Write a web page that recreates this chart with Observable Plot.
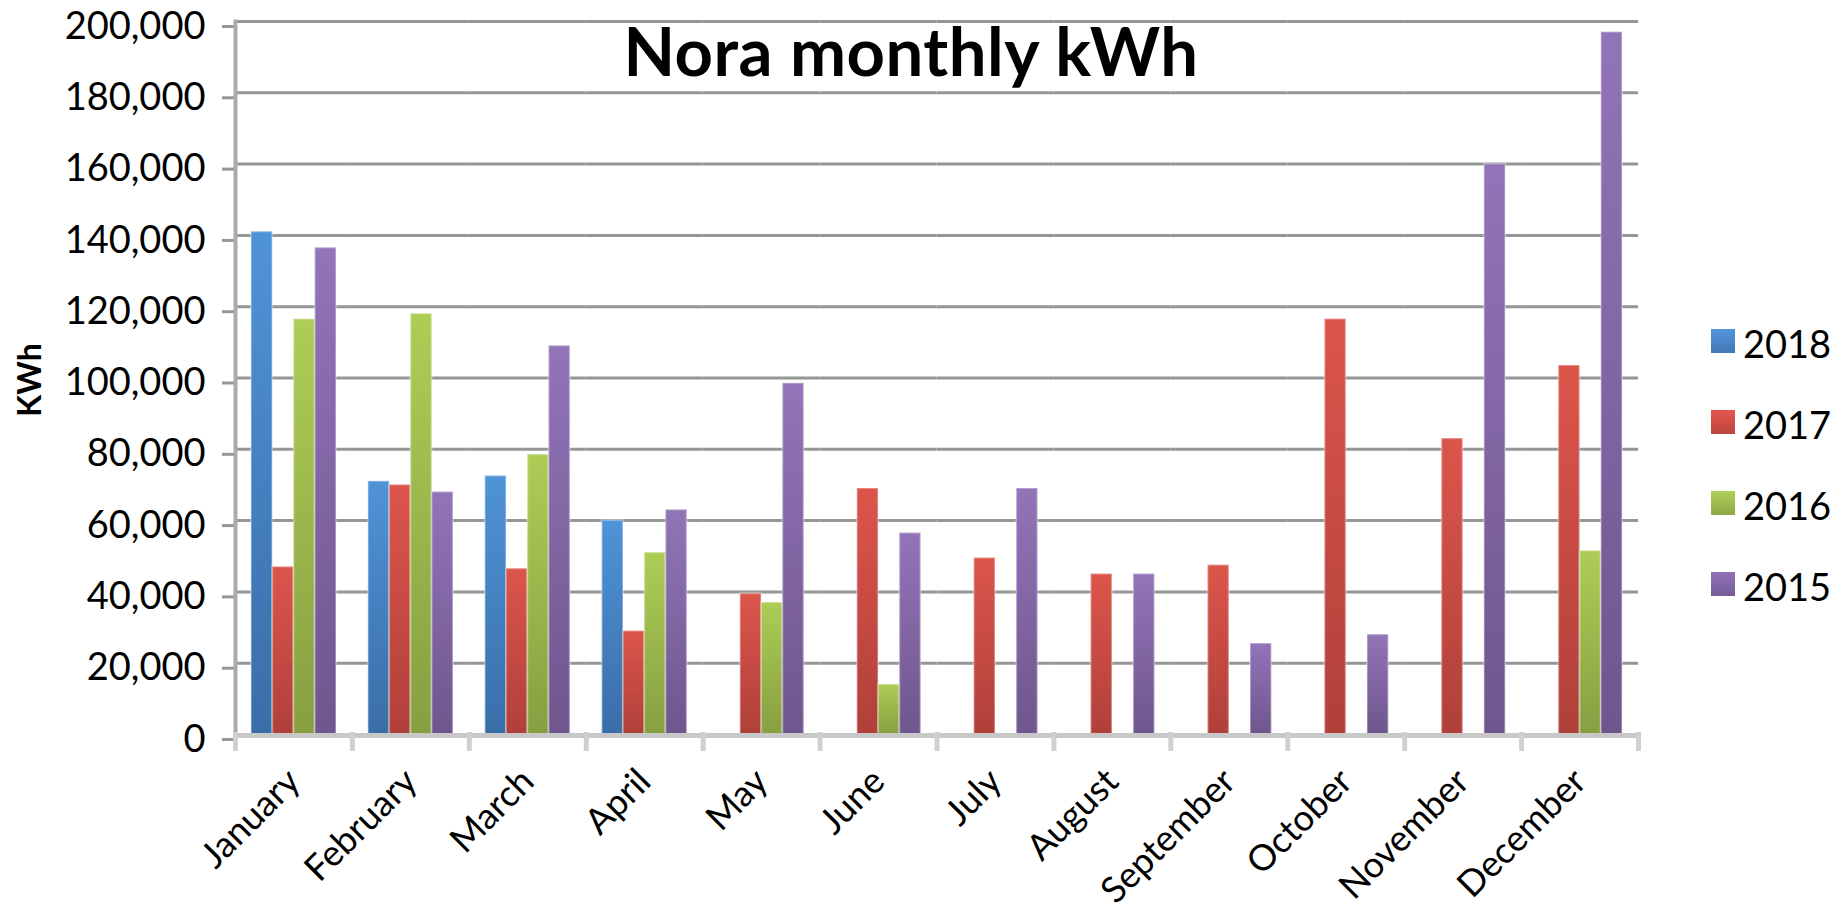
<!DOCTYPE html>
<html>
<head>
<meta charset="utf-8">
<script src="https://cdn.jsdelivr.net/npm/d3@7"></script>
<script src="https://cdn.jsdelivr.net/npm/@observablehq/plot@0.6"></script>
<style>
  html, body { margin: 0; padding: 0; background: #fff; overflow: hidden; }
  #wrap { position: relative; width: 1842px; height: 917px; font-family: Lato, "Liberation Sans", sans-serif; }
  #chart svg { display: block; }
  #title { position: absolute; left: 911px; top: 17px; transform: translateX(-50%); font-weight: 700; font-size: 67px; letter-spacing: 0.5px; line-height: 1; white-space: nowrap; color: #000; }
  #ylabel { position: absolute; left: 29px; top: 380px; transform: translate(-50%, -50%) rotate(-90deg); font-weight: 700; font-size: 32px; line-height: 1; color: #000; white-space: nowrap; }
  #legend { position: absolute; left: 1711px; top: 323px; }
  .item { position: relative; height: 81px; }
  .sw { position: absolute; left: 0; top: 6px; width: 24px; height: 24px; }
  .lab { position: absolute; left: 32px; top: 0; font-size: 38px; line-height: 40px; color: #000; }
</style>
</head>
<body>
<svg width="0" height="0" style="position:absolute">
  <defs>
    <linearGradient id="g2018" x1="0" y1="0" x2="0" y2="1">
      <stop offset="0" stop-color="#4f93d8"/><stop offset="1" stop-color="#3a6ea8"/>
    </linearGradient>
    <linearGradient id="g2017" x1="0" y1="0" x2="0" y2="1">
      <stop offset="0" stop-color="#dc554b"/><stop offset="1" stop-color="#b0403a"/>
    </linearGradient>
    <linearGradient id="g2016" x1="0" y1="0" x2="0" y2="1">
      <stop offset="0" stop-color="#adcd56"/><stop offset="1" stop-color="#879f41"/>
    </linearGradient>
    <linearGradient id="g2015" x1="0" y1="0" x2="0" y2="1">
      <stop offset="0" stop-color="#9274b8"/><stop offset="1" stop-color="#6f568e"/>
    </linearGradient>
  </defs>
</svg>
<div id="wrap">
  <div id="chart"></div>
  <div id="title">Nora monthly kWh</div>
  <div id="ylabel">KWh</div>
  <div id="legend"></div>
</div>
<script>
// ---- data ----
const months = ["January", "February", "March", "April", "May", "June", "July", "August", "September", "October", "November", "December"];
const years = ["2018", "2017", "2016", "2015"];
const kwh2018 = [141000, 71000, 72500, 60000, null, null, null, null, null, null, null, null];
const kwh2017 = [47000, 70000, 46500, 29000, 39500, 69000, 49500, 45000, 47500, 116500, 83000, 103500];
const kwh2016 = [116500, 118000, 78500, 51000, 37000, 14000, null, null, null, null, null, 51500];
const kwh2015 = [136500, 68000, 109000, 63000, 98500, 56500, 69000, 45000, 25500, 28000, 160000, 197000];
const yTicks = [0, 20000, 40000, 60000, 80000, 100000, 120000, 140000, 160000, 180000, 200000];
const yearColors = ["#4a86c8", "#cf4d45", "#9dbb4f", "#8266a6"];

const series = [kwh2018, kwh2017, kwh2016, kwh2015];
const data = years.flatMap((yr, k) =>
  series[k].map((v, i) => ({month: months[i], year: yr, value: v}))
).filter(d => d.value != null);

const chart = Plot.plot({
  width: 1842,
  height: 917,
  marginTop: 21,
  marginBottom: 183,
  marginLeft: 235,
  marginRight: 204,
  style: {fontFamily: "Lato, 'Liberation Sans', sans-serif", fontSize: "36px", color: "#000", background: "transparent", overflow: "visible"},
  fx: {domain: months, padding: 0, round: false, label: null},
  x: {domain: years, paddingInner: 0, paddingOuter: 0.75, round: false, axis: null},
  y: {domain: [0, 200000], label: null},
  color: {domain: years, range: years.map(y => `url(#g${y})`)},
  marks: [
    Plot.gridY(yTicks, {stroke: "#969696", strokeWidth: 3, strokeOpacity: 1}),
    Plot.axisY(yTicks, {tickSize: 13, tickPadding: 17, tickFormat: d3.format(","), stroke: "#969696", strokeWidth: 3, fill: "#000", fontSize: 38, label: null, dy: 5}),
    Plot.barY(data, {fx: "month", x: "year", y: "value", fill: "year", stroke: "white", strokeOpacity: 0.3, strokeWidth: 2}),
    Plot.ruleY([0], {stroke: "#c8c8c8", strokeWidth: 5, dy: 1}),
    Plot.frame({anchor: "left", facetAnchor: "left", stroke: "#ababab", strokeWidth: 4}),
    Plot.frame({anchor: "left", insetTop: 713, insetBottom: -14, stroke: "#d0d0d0", strokeWidth: 5}),
    Plot.frame({anchor: "right", facetAnchor: "right", insetTop: 713, insetBottom: -14, stroke: "#d0d0d0", strokeWidth: 5}),
    Plot.axisFx({anchor: "bottom", tickRotate: -45, tickSize: 0, tickPadding: 41, label: null, fill: "#000"})
  ]
});
document.getElementById("chart").appendChild(chart);

// legend
const legend = d3.select("#legend");
years.forEach((y, k) => {
  const item = legend.append("div").attr("class", "item");
  item.append("div").attr("class", "sw")
    .style("background", `linear-gradient(to bottom, ${d3.color(yearColors[k]).brighter(0.3)}, ${d3.color(yearColors[k]).darker(0.3)})`);
  item.append("div").attr("class", "lab").text(y);
});
</script>
</body>
</html>
